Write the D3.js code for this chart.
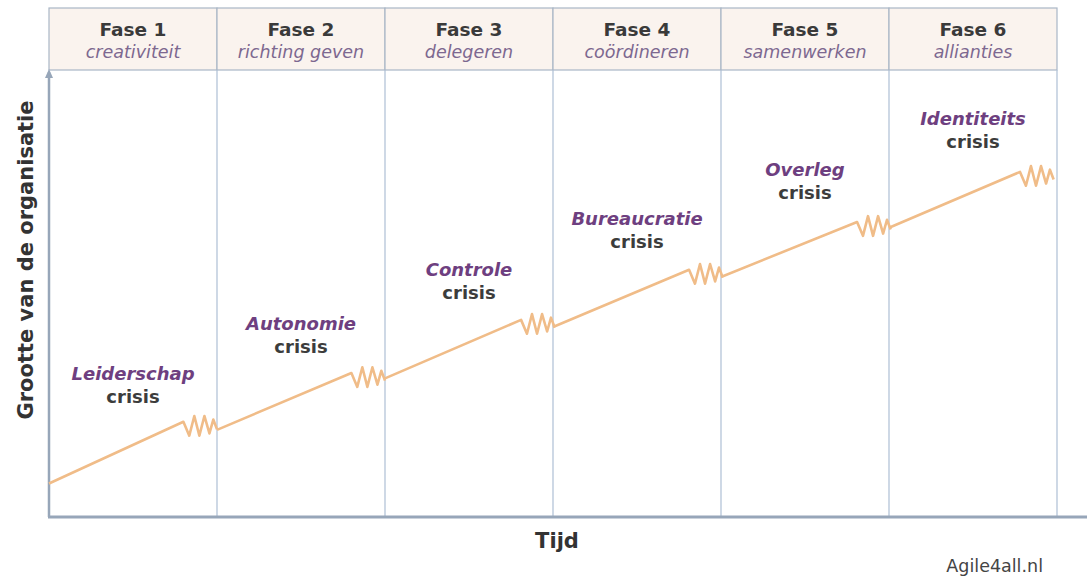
<!DOCTYPE html>
<html>
<head>
<meta charset="utf-8">
<title>Groeifasen van Greiner</title>
<style type="text/css">
body {
	margin: 0;
	background: #ffffff;
	font-family: "DejaVu Sans", Verdana, sans-serif;
}
</style>
</head>
<body>
<div id="chart"></div>

<script src="https://cdn.jsdelivr.net/npm/d3@7"></script>
<script>
	// phases
	var phases = ['Fase 1', 'Fase 2', 'Fase 3', 'Fase 4', 'Fase 5', 'Fase 6'];
	var phaseThemes = ['creativiteit', 'richting geven', 'delegeren', 'coördineren', 'samenwerken', 'allianties'];
	var crises = ['Leiderschap', 'Autonomie', 'Controle', 'Bureaucratie', 'Overleg', 'Identiteits'];

	// size of the organisation (0-100) at start of each phase and where the crisis hits
	var startSize = [7.5, 19.5, 31.0, 42.5, 53.7, 64.7];
	var crisisSize = [21.3, 32.2, 44.1, 55.3, 66.0, 77.2];
	// moment in the phase (fraction) where the crisis begins
	var crisisAt = [0.80, 0.80, 0.81, 0.81, 0.81, 0.78];

	// zigzag of a crisis: [time offset in phases, size offset]
	var crisisShape = [[0, 0], [0.035, -3.1], [0.065, 1.3], [0.095, -3.1], [0.125, 1.3], [0.155, -2.6], [0.178, 0.5], [0.20, -1.7]];

	var width = 1087, height = 576;
	var plotLeft = 49, plotRight = 1057, plotTop = 70, plotBottom = 517;

	var svg = d3.select('#chart').append('svg')
		.attr('width', width)
		.attr('height', height);

	var x = d3.scaleLinear().domain([0, 6]).range([plotLeft, plotRight]);
	var y = d3.scaleLinear().domain([0, 100]).range([plotBottom, plotTop]);

	// header boxes
	var header = svg.append('g');
	header.selectAll('rect').data(phases).enter()
		.append('rect')
		.attr('x', function(d, i) { return x(i); })
		.attr('y', 8)
		.attr('width', x(1) - x(0))
		.attr('height', plotTop - 8)
		.attr('fill', '#faf3ee')
		.attr('stroke', '#a9b6c6')
		.attr('stroke-width', 1.2);

	header.selectAll('text.phase').data(phases).enter()
		.append('text')
		.attr('class', 'phase')
		.attr('x', function(d, i) { return x(i + 0.5); })
		.attr('y', 36)
		.attr('text-anchor', 'middle')
		.attr('font-size', 18.5)
		.attr('font-weight', 'bold')
		.attr('fill', '#3a3a3a')
		.text(function(d) { return d; });

	header.selectAll('text.theme').data(phaseThemes).enter()
		.append('text')
		.attr('class', 'theme')
		.attr('x', function(d, i) { return x(i + 0.5); })
		.attr('y', 58)
		.attr('text-anchor', 'middle')
		.attr('font-size', 17.5)
		.attr('font-style', 'italic')
		.attr('fill', '#7d6890')
		.text(function(d) { return d; });

	// vertical phase separators
	svg.append('g').selectAll('line').data(d3.range(1, 7)).enter()
		.append('line')
		.attr('x1', function(d) { return x(d); })
		.attr('x2', function(d) { return x(d); })
		.attr('y1', plotTop)
		.attr('y2', plotBottom)
		.attr('stroke', '#b4c4d8')
		.attr('stroke-width', 1.3);

	// axes
	svg.append('line')
		.attr('x1', plotLeft).attr('x2', plotLeft)
		.attr('y1', plotTop + 2).attr('y2', plotBottom)
		.attr('stroke', '#97a6b9')
		.attr('stroke-width', 2.5);
	svg.append('path')
		.attr('d', 'M' + (plotLeft - 4) + ',' + (plotTop + 8) + 'L' + plotLeft + ',' + (plotTop - 1) + 'L' + (plotLeft + 4) + ',' + (plotTop + 8) + 'Z')
		.attr('fill', '#97a6b9');
	svg.append('line')
		.attr('x1', plotLeft - 1).attr('x2', width)
		.attr('y1', plotBottom).attr('y2', plotBottom)
		.attr('stroke', '#97a6b9')
		.attr('stroke-width', 3);

	// growth line with crises
	var line = d3.line()
		.x(function(d) { return x(d[0]); })
		.y(function(d) { return y(d[1]); });

	var segments = phases.map(function(p, i) {
		var pts = [[i, startSize[i]]];
		crisisShape.forEach(function(s) {
			pts.push([i + crisisAt[i] + s[0], crisisSize[i] + s[1]]);
		});
		return pts;
	});

	svg.append('g').selectAll('path').data(segments).enter()
		.append('path')
		.attr('d', line)
		.attr('fill', 'none')
		.attr('stroke', '#f0bc88')
		.attr('stroke-width', 2.6)
		.attr('stroke-linejoin', 'round');

	// crisis labels
	var labels = svg.append('g').selectAll('g').data(crises).enter()
		.append('g')
		.attr('transform', function(d, i) {
			return 'translate(' + x(i + 0.5) + ',' + (y(crisisSize[i]) - 42 - i) + ')';
		});
	labels.append('text')
		.attr('text-anchor', 'middle')
		.attr('font-size', 18)
		.attr('font-weight', 'bold')
		.attr('font-style', 'italic')
		.attr('fill', '#6e3f80')
		.text(function(d) { return d; });
	labels.append('text')
		.attr('y', 23)
		.attr('text-anchor', 'middle')
		.attr('font-size', 18)
		.attr('font-weight', 'bold')
		.attr('fill', '#3c3c3c')
		.text('crisis');

	// axis titles
	svg.append('text')
		.attr('transform', 'translate(33,' + 260 + ') rotate(-90)')
		.attr('text-anchor', 'middle')
		.attr('font-size', 21)
		.attr('font-weight', 'bold')
		.attr('fill', '#333')
		.text('Grootte van de organisatie');

	svg.append('text')
		.attr('x', 557)
		.attr('y', 548)
		.attr('text-anchor', 'middle')
		.attr('font-size', 21)
		.attr('font-weight', 'bold')
		.attr('fill', '#333')
		.text('Tijd');

	svg.append('text')
		.attr('x', 1043)
		.attr('y', 572)
		.attr('text-anchor', 'end')
		.attr('font-size', 17.5)
		.attr('fill', '#444')
		.text('Agile4all.nl');
</script>
</body>
</html>
